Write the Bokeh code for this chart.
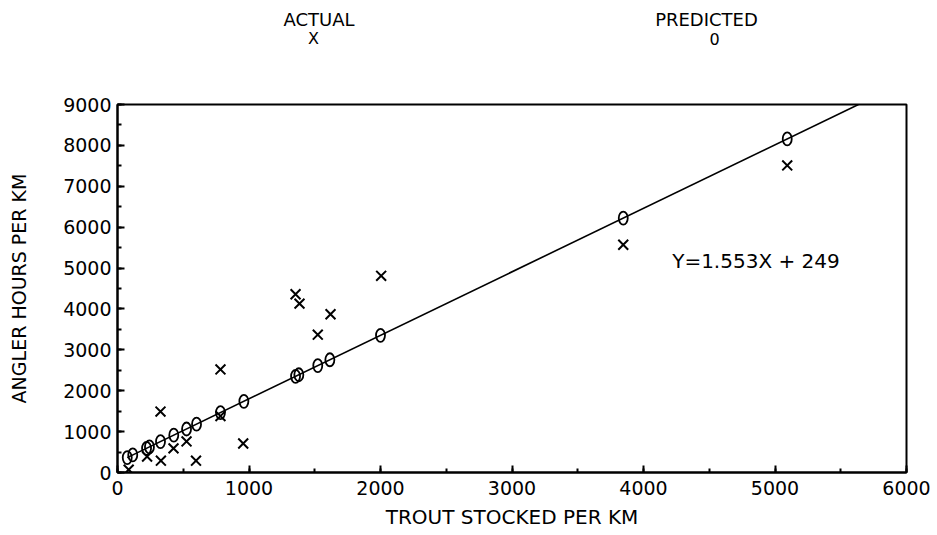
from bokeh.plotting import figure
from bokeh.models import SingleIntervalTicker, Label, Range1d
from bokeh.layouts import column
from bokeh.embed import file_html
from bokeh.resources import INLINE
from bokeh.core.properties import value

# Actual observations (X markers)
trout_stocked = [85, 225, 327, 330, 426, 525, 597, 783, 783, 956,
                 1354, 1384, 1523, 1620, 2005, 3846, 5093]
angler_hours_actual = [70, 390, 1490, 290, 590, 760, 290, 1380, 2520, 710,
                       4360, 4130, 3370, 3870, 4810, 5570, 7510]

# Predicted values (O markers), lying on the regression line
predicted_x = [74, 116, 221, 243, 327, 428, 525, 601, 783, 961,
               1354, 1379, 1523, 1615, 2000, 3846, 5093]
predicted_y = [364, 429, 592, 626, 757, 914, 1064, 1182, 1465, 1741,
               2352, 2391, 2614, 2757, 3355, 6222, 8158]

# Regression equation
slope = 1.553
intercept = 249
equation_text = "Y=1.553X + 249"

legend_labels = ["ACTUAL", "PREDICTED"]
legend_symbols = ["X", "0"]

x_ticks_interval = 1000
y_ticks_interval = 1000

FONT = "DejaVu Sans"
W = 937
HEADER_H = 76
MAIN_H = 535 - HEADER_H

x_range = Range1d(0, 6000)

# ---------- header with the legend texts ----------
head = figure(width=W, height=HEADER_H, x_range=x_range, y_range=Range1d(HEADER_H, 0),
              output_backend="svg", toolbar_location=None,
              x_axis_location=None, y_axis_location=None,
              min_border_left=117, min_border_right=31,
              min_border_top=0, min_border_bottom=0)
head.xgrid.visible = False
head.ygrid.visible = False
head.outline_line_color = None
head.background_fill_color = "white"
head.border_fill_color = "white"

head.text(x=[1532, 4479], y=[18.7, 18.7], text=legend_labels,
          text_font=value(FONT), text_font_size="18px",
          text_align="center", text_baseline="middle", text_color="black")
head.text(x=[1490, 4540], y=[37.5, 38], text=legend_symbols,
          text_font=value(FONT), text_font_size="16px",
          text_align="center", text_baseline="middle", text_color="black")

# ---------- main chart ----------
p = figure(width=W, height=MAIN_H, x_range=x_range, y_range=Range1d(0, 9000),
           output_backend="svg", toolbar_location=None,
           min_border_left=117, min_border_right=31,
           min_border_top=104 - HEADER_H, min_border_bottom=63)

p.xgrid.visible = False
p.ygrid.visible = False
p.background_fill_color = "white"
p.border_fill_color = "white"
p.outline_line_color = "black"
p.outline_line_width = 2

for ax, interval in ((p.xaxis[0], x_ticks_interval), (p.yaxis[0], y_ticks_interval)):
    ax.ticker = SingleIntervalTicker(interval=interval, num_minor_ticks=2)
    ax.axis_line_color = "black"
    ax.axis_line_width = 2
    ax.major_tick_in = 7
    ax.major_tick_out = 0
    ax.minor_tick_in = 4
    ax.minor_tick_out = 0
    ax.major_tick_line_width = 2
    ax.minor_tick_line_width = 2
    ax.major_tick_line_color = "black"
    ax.minor_tick_line_color = "black"
    ax.major_label_text_font = FONT
    ax.major_label_text_font_size = "19px"
    ax.major_label_text_color = "black"
    ax.axis_label_text_font = FONT
    ax.axis_label_text_font_style = "normal"
    ax.axis_label_text_color = "black"

p.xaxis.axis_label = "TROUT STOCKED PER KM"
p.xaxis.axis_label_text_font_size = "20px"
p.xaxis.major_label_standoff = 8
p.xaxis.axis_label_standoff = 7

p.yaxis.axis_label = "ANGLER HOURS PER KM"
p.yaxis.axis_label_text_font_size = "19px"
p.yaxis.major_label_standoff = 6
p.yaxis.axis_label_standoff = 30

# Regression line from first predicted point to top of the chart
x_end = (9000 - intercept) / slope
x_start = min(predicted_x)
p.line([x_start, x_end], [slope * x_start + intercept, slope * x_end + intercept],
       line_color="black", line_width=1.6)

# Actual values
p.scatter(trout_stocked, angler_hours_actual, marker="x", size=14,
          line_color="black", line_width=2)

# Predicted values
p.ellipse(predicted_x, predicted_y, width=9, height=13,
          width_units="screen", height_units="screen",
          fill_color=None, line_color="black", line_width=1.8)

# Equation text
p.add_layout(Label(x=4218, y=5179, text=equation_text, text_font=FONT,
                   text_font_size="20px", text_align="left",
                   text_baseline="middle", text_color="black"))

layout = column(head, p, spacing=0)
open("out.html", "w").write(file_html(layout, INLINE))
